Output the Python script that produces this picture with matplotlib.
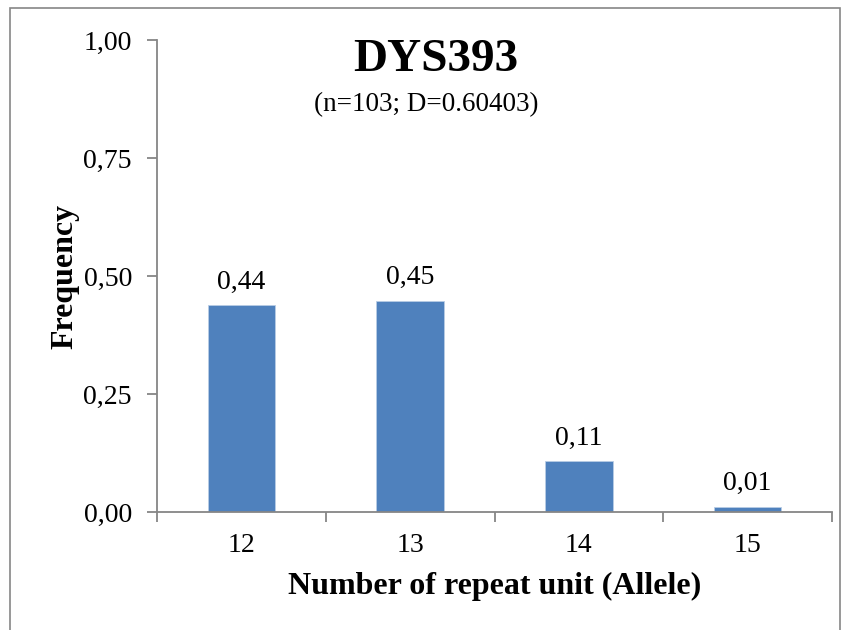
import matplotlib
matplotlib.use('Agg')
import matplotlib.pyplot as plt
from matplotlib.patches import Rectangle

# данные
alleles = ['12', '13', '14', '15']
freq = [0.438, 0.447, 0.107, 0.011]
freq_labels = ['0,44', '0,45', '0,11', '0,01']
y_ticks = [0.0, 0.25, 0.5, 0.75, 1.0]
y_tick_labels = ['0,00', '0,25', '0,50', '0,75', '1,00']

plt.rcParams['font.family'] = ['Liberation Serif', 'DejaVu Serif']

fig = plt.figure(figsize=(8.48, 6.30), dpi=100)
ax = fig.add_axes([157/848, 1-512/630, (832-157)/848, (512-40)/630])

x = range(len(alleles))
ax.bar(x, freq, width=0.40, color='#4F81BD', edgecolor='#B9CDE5', linewidth=0.6, zorder=2)

for xi, v, lab in zip(x, freq, freq_labels):
    ax.annotate(lab, (xi, v), xytext=(0, 12), textcoords='offset points',
                ha='center', va='baseline', fontsize=20)

ax.set_xlim(-0.5, 3.5)
ax.set_ylim(0, 1.0)
ax.set_yticks(y_ticks)
ax.set_yticklabels(y_tick_labels, fontsize=20)
ax.set_xticks(list(x))
ax.set_xticklabels(alleles, fontsize=20)
ax.set_xticks([-0.5, 0.5, 1.5, 2.5, 3.5], minor=True)
ax.tick_params(axis='x', which='major', length=0, pad=15)
ax.tick_params(axis='x', which='minor', length=7, color='#868686', width=1.3)
ax.tick_params(axis='y', length=7, color='#868686', width=1.3, pad=11)

for s in ['top', 'right']:
    ax.spines[s].set_visible(False)
for s in ['left', 'bottom']:
    ax.spines[s].set_color('#868686')
    ax.spines[s].set_linewidth(1.3)

ax.set_xlabel('Number of repeat unit (Allele)', fontsize=23, fontweight='bold', labelpad=10)
ax.set_ylabel('Frequency', fontsize=23, fontweight='bold', labelpad=3)

fig.text(436/848, 1-60/630, 'DYS393', ha='center', va='center', fontsize=34, fontweight='bold')
fig.text(426/848, 1-105/630, '(n=103; D=0.60403)', ha='center', va='center', fontsize=19.5)

# рамка
fig.patches.append(Rectangle((10/848, -0.05), (840-10)/848, 1.05 - 8/630,
                             transform=fig.transFigure, fill=False,
                             edgecolor='#868686', linewidth=1.2))

fig.savefig('out.png', dpi=100)
